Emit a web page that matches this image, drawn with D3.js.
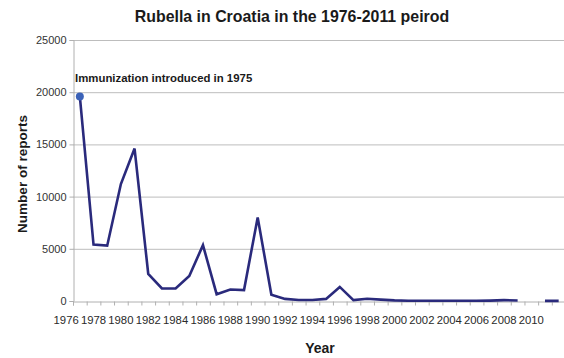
<!DOCTYPE html>
<html>
<head>
<meta charset="utf-8">
<script src="https://cdn.jsdelivr.net/npm/d3@7"></script>
<style>
  html, body { margin: 0; padding: 0; background: #fff; }
  svg { display: block; font-family: "Liberation Sans", Arial, Helvetica, sans-serif; }
</style>
</head>
<body>
<svg id="chart" width="564" height="358"></svg>
<script>
// Years as read along the x axis (first point sits between 1976 and 1978 labels)
const years = [1977,1978,1979,1980,1981,1982,1983,1984,1985,1986,1987,1988,1989,1990,
  1991,1992,1993,1994,1995,1996,1997,1998,1999,2000,2001,2002,2003,2004,2005,2006,
  2007,2008,2009,2010,2011,2012];
const reports = [19600,5400,5300,11200,14600,2600,1200,1200,2400,5350,650,1100,1050,8000,
  600,200,100,100,200,1350,80,220,130,60,30,25,20,20,20,20,
  40,80,50,null,10,10];
const yTicks = [0,5000,10000,15000,20000,25000];
const xTickLabels = [1976,1978,1980,1982,1984,1986,1988,1990,1992,1994,1996,1998,2000,2002,2004,2006,2008,2010];
const title = "Rubella in Croatia in the 1976-2011 peirod";
const note = "Immunization introduced in 1975";

const svg = d3.select("#chart");
const mLeft = 73, mRight = 565.5, mTop = 40, mBottom = 301;

const x = d3.scaleLinear().domain([1976.5, 2012.5]).range([mLeft, mRight]);
const y = d3.scaleLinear().domain([0, 25000]).range([mBottom, mTop]);

// gridlines
svg.append("g")
  .selectAll("line").data(yTicks.filter(d => d > 0)).join("line")
  .attr("x1", mLeft).attr("x2", mRight)
  .attr("y1", d => y(d) + 0.5).attr("y2", d => y(d) + 0.5)
  .attr("stroke", "#bdbdbd").attr("stroke-width", 1);

// y axis
const yAxis = svg.append("g").attr("transform", `translate(${mLeft + 0.5},0)`)
  .call(d3.axisLeft(y).tickValues(yTicks).tickSize(4).tickPadding(3).tickFormat(d3.format("d")));
yAxis.select(".domain").attr("stroke", "#b0b0b0");
yAxis.selectAll(".tick line").attr("stroke", "#b0b0b0");
yAxis.selectAll(".tick text").attr("font-size", 11).attr("fill", "#333")
  .attr("font-family", "Liberation Sans, Arial, sans-serif");

// x axis: ticks between categories
const halfYears = d3.range(1976.5, 2013, 1);
const xAxis = svg.append("g").attr("transform", `translate(0,${mBottom + 0.5})`)
  .call(d3.axisBottom(x).tickValues(halfYears).tickSize(4).tickFormat(""));
xAxis.select(".domain").attr("stroke", "#b0b0b0");
xAxis.selectAll(".tick line").attr("stroke", "#b0b0b0");

// x tick labels (even years)
svg.append("g")
  .selectAll("text").data(xTickLabels).join("text")
  .attr("x", d => x(d)).attr("y", 324)
  .attr("text-anchor", "middle").attr("font-size", 11.3).attr("fill", "#2a2a2a")
  .text(d => d);

// line
const line = d3.line()
  .defined(d => d[1] !== null)
  .x(d => x(d[0])).y(d => y(d[1]));
svg.append("path")
  .datum(years.map((yr, i) => [yr, reports[i]]))
  .attr("d", line)
  .attr("fill", "none").attr("stroke", "#2a2a7c").attr("stroke-width", 2.6)
  .attr("stroke-linejoin", "miter");

// first point marker
svg.append("circle")
  .attr("cx", x(years[0])).attr("cy", y(reports[0])).attr("r", 4)
  .attr("fill", "#3b62b8");

// annotation
svg.append("text").attr("x", 75).attr("y", 82)
  .attr("font-size", 11.4).attr("font-weight", "bold").attr("fill", "#1a1a1a")
  .text(note);

// title
svg.append("text").attr("x", 292).attr("y", 22)
  .attr("text-anchor", "middle").attr("font-size", 15.9).attr("font-weight", "bold").attr("fill", "#1a1a1a")
  .text(title);

// axis titles
svg.append("text")
  .attr("transform", "translate(27,174) rotate(-90)")
  .attr("text-anchor", "middle").attr("font-size", 13.5).attr("font-weight", "bold").attr("fill", "#1a1a1a")
  .text("Number of reports");
svg.append("text").attr("x", 320).attr("y", 353)
  .attr("text-anchor", "middle").attr("font-size", 14).attr("font-weight", "bold").attr("fill", "#1a1a1a")
  .text("Year");
</script>
</body>
</html>
